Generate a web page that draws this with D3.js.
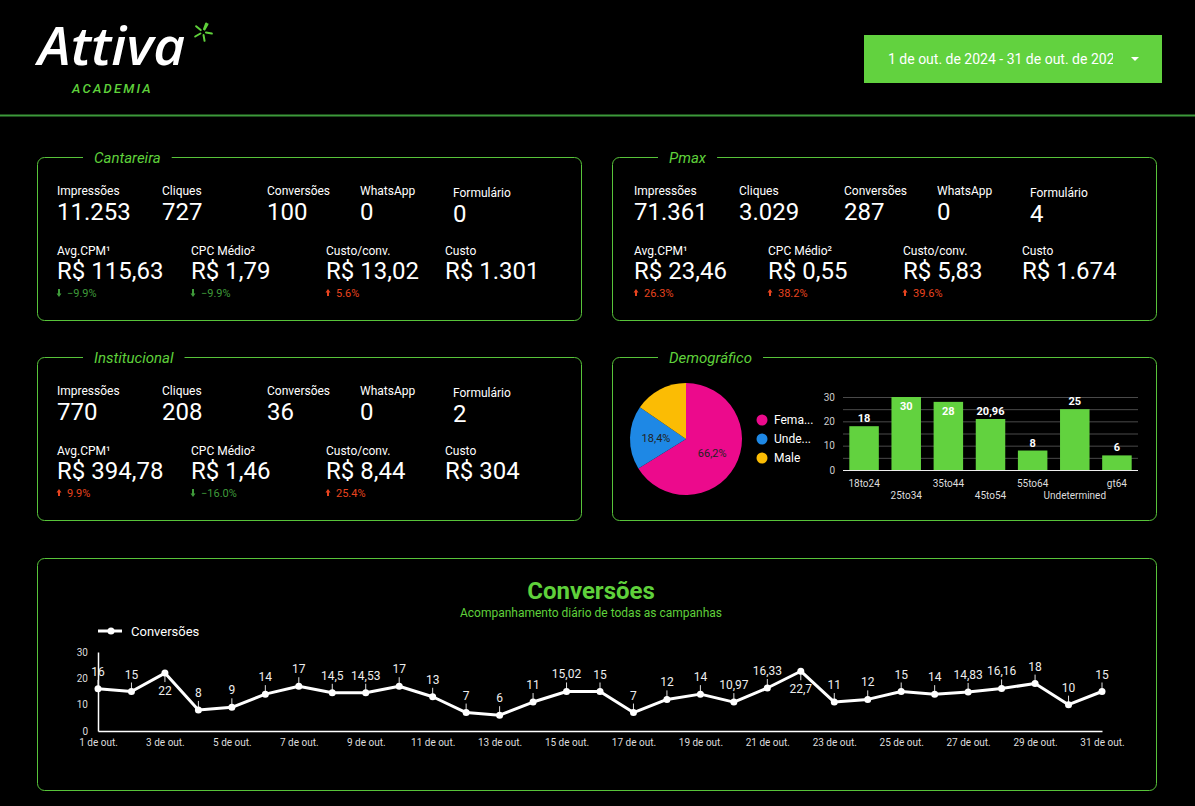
<!DOCTYPE html>
<html>
<head>
<meta charset="utf-8">
<script src="https://cdn.jsdelivr.net/npm/d3@7"></script>
<style>
  body { margin: 0; background: #000; }
  svg { display: block; font-family: Roboto, "Noto Sans", sans-serif; }
</style>
</head>
<body>
<div id="dash"></div>
<script>
//////////////////// data ////////////////////
const campaigns = ["Cantareira", "Pmax", "Institucional"];
const topLabels = ["Impressões", "Cliques", "Conversões", "WhatsApp", "Formulário"];
const bottomLabels = ["Avg.CPM¹", "CPC Médio²", "Custo/conv.", "Custo"];

const impressions = [11253, 71361, 770];
const clicks = [727, 3029, 208];
const conversions = [100, 287, 36];
const whatsapp = [0, 0, 0];
const formulario = [0, 4, 2];
const avgCpm = [115.63, 23.46, 394.78];
const cpcMedio = [1.79, 0.55, 1.46];
const custoConv = [13.02, 5.83, 8.44];
const custo = [1301, 1674, 304];
const cpmDelta = [-9.9, 26.3, 9.9];
const cpcDelta = [-9.9, 38.2, -16.0];
const custoConvDelta = [5.6, 39.6, 25.4];

const genderLabels = ["Female", "Undetermined", "Male"];
const genderShare = [66.2, 18.4, 15.4];

const ageLabels = ["18to24", "25to34", "35to44", "45to54", "55to64", "Undetermined", "gt64"];
const ageValues = [18, 30, 28, 20.96, 8, 25, 6];

const days = d3.range(1, 32);
const dailyConversions = [16, 15, 22, 8, 9, 14, 17, 14.5, 14.53, 17, 13, 7, 6, 11, 15.02, 15,
                          7, 12, 14, 10.97, 16.33, 22.7, 11, 12, 15, 14, 14.83, 16.16, 18, 10, 15];

const dateRange = "1 de out. de 2024 - 31 de out. de 2024";

//////////////////// setup ////////////////////
const width = 1195, height = 806;
const green = "#62d23f", greenText = "#5fd13b", border = "#58c43a";
const upColor = "#e8441f", downColor = "#3f9b3a";

const br = d3.formatLocale({ decimal: ",", thousands: ".", grouping: [3], currency: ["R$ ", ""] });
const fmtInt = br.format(",d");
const fmtNum = v => Number.isInteger(v) ? fmtInt(v) : br.format(",.2~f")(v);
const fmtMoney = v => Number.isInteger(v) ? "R$ " + fmtInt(v) : "R$ " + br.format(",.2f")(v);
const fmtPct = br.format(".1f");

let svg = d3.select("#dash").append("svg")
            .attr("width", width)
            .attr("height", height);
svg.append("rect").attr("width", width).attr("height", height).attr("fill", "#000");

//////////////////// header ////////////////////
svg.append("text")
   .attr("x", 38).attr("y", 65)
   .attr("textLength", 147).attr("lengthAdjust", "spacingAndGlyphs")
   .style("font-family", "'Open Sans', sans-serif")
   .style("font-style", "italic").style("font-weight", 600)
   .style("font-size", "52px").attr("fill", "#fff")
   .text("Attiva");
// little green sparkle next to the logo
const star = svg.append("g").attr("transform", "translate(203,32)");
[-60, 10, 80, 150, 220, 290].forEach(function(a) {
  const r = a * Math.PI / 180;
  star.append("line")
      .attr("x1", 3 * Math.cos(r)).attr("y1", 3 * Math.sin(r))
      .attr("x2", 9 * Math.cos(r)).attr("y2", 9 * Math.sin(r))
      .attr("stroke", greenText).attr("stroke-width", 2).attr("stroke-linecap", "round");
});
svg.append("text")
   .attr("x", 72).attr("y", 93)
   .style("font-style", "italic").style("font-weight", 500)
   .style("font-size", "13px").style("letter-spacing", "2.2px")
   .attr("fill", greenText)
   .text("ACADEMIA");

svg.append("line")
   .attr("x1", 0).attr("x2", width).attr("y1", 115.5).attr("y2", 115.5)
   .attr("stroke", "#3c9a3a").attr("stroke-width", 2);

// date range button
svg.append("rect").attr("x", 864).attr("y", 35).attr("width", 298).attr("height", 48).attr("fill", green);
svg.append("clipPath").attr("id", "dateClip")
   .append("rect").attr("x", 864).attr("y", 35).attr("width", 249).attr("height", 48);
svg.append("text")
   .attr("x", 888).attr("y", 64)
   .attr("clip-path", "url(#dateClip)")
   .style("font-size", "14px").attr("fill", "#fff")
   .text(dateRange);
svg.append("path").attr("d", "M1131,57 L1139,57 L1135,61 Z").attr("fill", "#fff");

//////////////////// helpers ////////////////////
function drawFrame(x0, y0, w, h, title) {
  svg.append("rect")
     .attr("x", x0 + 0.5).attr("y", y0 + 0.5).attr("width", w).attr("height", h)
     .attr("rx", 7).attr("fill", "none").attr("stroke", border).attr("stroke-width", 1);
  if (!title) return;
  let t = svg.append("text")
             .attr("x", x0 + 57).attr("y", y0 + 6)
             .style("font-style", "italic").style("font-size", "15px")
             .attr("fill", greenText)
             .text(title);
  let tw = t.node().getComputedTextLength();
  svg.insert("rect", "text:last-of-type")
     .attr("x", x0 + 46).attr("y", y0 - 3).attr("width", tw + 22).attr("height", 8)
     .attr("fill", "#000");
  t.raise();
}

function drawDelta(x, y, d) {
  const up = d > 0;
  const col = up ? upColor : downColor;
  const p = up
    ? `M${x+2},${y-8} L${x+4.5},${y-4.5} L${x+3},${y-4.5} L${x+3},${y-1} L${x+1},${y-1} L${x+1},${y-4.5} L${x-0.5},${y-4.5} Z`
    : `M${x+2},${y} L${x+4.5},${y-3.5} L${x+3},${y-3.5} L${x+3},${y-8} L${x+1},${y-8} L${x+1},${y-3.5} L${x-0.5},${y-3.5} Z`;
  svg.append("path").attr("d", p).attr("fill", col);
  svg.append("text").attr("x", x + 10).attr("y", y)
     .style("font-size", "11px").attr("fill", col)
     .text(fmtPct(d).replace(",", ".") + "%");
}

//////////////////// campaign cards ////////////////////
const cardPos = [[37, 157], [612, 157], [37, 357]];
const cardInset = [0, 2, 0];
const topCols = [20, 125, 230, 323, 416];
const botCols = [20, 154, 289, 408];

campaigns.forEach(function(name, i) {
  const [x0, y0] = cardPos[i];
  drawFrame(x0, y0, 544, 163, name);
  const xi = x0 + cardInset[i];
  const topVals = [impressions[i], clicks[i], conversions[i], whatsapp[i], formulario[i]];
  topLabels.forEach(function(lab, j) {
    const dy = j === 4 ? 2 : 0;
    svg.append("text").attr("x", xi + topCols[j]).attr("y", y0 + 38 + dy)
       .style("font-size", "12px").attr("fill", "#fff").text(lab);
    svg.append("text").attr("x", xi + topCols[j]).attr("y", y0 + 63 + dy)
       .style("font-size", "24px").attr("fill", "#fff").text(fmtNum(topVals[j]));
  });
  const botVals = [avgCpm[i], cpcMedio[i], custoConv[i], custo[i]];
  const botDeltas = [cpmDelta[i], cpcDelta[i], custoConvDelta[i], null];
  bottomLabels.forEach(function(lab, j) {
    svg.append("text").attr("x", xi + botCols[j]).attr("y", y0 + 98)
       .style("font-size", "12px").attr("fill", "#fff").text(lab);
    svg.append("text").attr("x", xi + botCols[j]).attr("y", y0 + 122)
       .style("font-size", "24px").attr("fill", "#fff").text(fmtMoney(botVals[j]));
    if (botDeltas[j] !== null) drawDelta(xi + botCols[j], y0 + 140, botDeltas[j]);
  });
});

//////////////////// demographics ////////////////////
drawFrame(612, 357, 544, 163, "Demográfico");

const pieColor = d3.scaleOrdinal().domain(genderLabels).range(["#ec0a8c", "#1e88e5", "#fbbc04"]);
const pie = d3.pie().sort(null).value(d => d.v);
const arc = d3.arc().innerRadius(0).outerRadius(56);
const labelArc = d3.arc().innerRadius(30).outerRadius(30);
const genderData = genderLabels.map((g, i) => ({ g: g, v: genderShare[i] }));

let pieG = svg.append("g").attr("transform", "translate(686,439)");
pieG.selectAll("path")
    .data(pie(genderData))
    .enter().append("path")
    .attr("d", arc)
    .attr("fill", d => pieColor(d.data.g));
pieG.selectAll("text")
    .data(pie(genderData).filter(d => d.data.v > 16))
    .enter().append("text")
    .attr("transform", d => `translate(${labelArc.centroid(d)})`)
    .attr("text-anchor", "middle").attr("dy", "0.35em")
    .style("font-size", "11px").attr("fill", "#222")
    .text(d => br.format(".1f")(d.data.v) + "%");

let legend = svg.append("g").attr("transform", "translate(762,420)");
genderLabels.forEach(function(g, i) {
  legend.append("circle").attr("cx", 0).attr("cy", i * 19).attr("r", 5.5).attr("fill", pieColor(g));
  legend.append("text").attr("x", 12).attr("y", i * 19).attr("dy", "0.35em")
        .style("font-size", "12px").attr("fill", "#fff")
        .text(g.length > 5 ? g.slice(0, 4) + "..." : g);
});

// age bars
const bx = d3.scaleBand().domain(ageLabels).range([843, 1138]).paddingInner(0.3).paddingOuter(0.15);
const by = d3.scaleLinear().domain([0, 30]).range([470, 397]);

svg.append("g").selectAll("line")
   .data([5, 10, 15, 20, 25, 30])
   .enter().append("line")
   .attr("x1", 843).attr("x2", 1138)
   .attr("y1", d => by(d) + 0.5).attr("y2", d => by(d) + 0.5)
   .attr("stroke", "#4a4a4a");

let byAxis = svg.append("g").attr("transform", "translate(843,0)")
                .call(d3.axisLeft(by).tickValues([0, 10, 20, 30]).tickSize(0).tickPadding(8));
byAxis.select(".domain").remove();
byAxis.selectAll("text").style("font-size", "10px").attr("fill", "#ccc").style("font-family", "Roboto");

svg.append("g").selectAll("rect")
   .data(ageValues)
   .enter().append("rect")
   .attr("x", (d, i) => bx(ageLabels[i]))
   .attr("y", d => by(d))
   .attr("width", bx.bandwidth())
   .attr("height", d => by(0) - by(d))
   .attr("fill", green);

svg.append("line").attr("x1", 843).attr("x2", 1138).attr("y1", 470.5).attr("y2", 470.5)
   .attr("stroke", "#eee").attr("stroke-width", 1.2);

svg.append("g").selectAll("text")
   .data(ageValues)
   .enter().append("text")
   .attr("x", (d, i) => bx(ageLabels[i]) + bx.bandwidth() / 2)
   .attr("y", d => d > 26 ? by(d) + 13 : by(d) - 4)
   .attr("text-anchor", "middle")
   .style("font-size", "11px").style("font-weight", 700).attr("fill", "#fff")
   .text(d => fmtNum(d));

svg.append("g").selectAll("text")
   .data(ageLabels)
   .enter().append("text")
   .attr("x", d => bx(d) + bx.bandwidth() / 2)
   .attr("y", (d, i) => i % 2 === 0 ? 487 : 499)
   .attr("text-anchor", "middle")
   .style("font-size", "10px").attr("fill", "#ddd")
   .text(d => d);

//////////////////// daily conversions ////////////////////
drawFrame(37, 558, 1119, 232, null);

svg.append("text").attr("x", 591).attr("y", 599).attr("text-anchor", "middle")
   .style("font-size", "24px").style("font-weight", 700).attr("fill", greenText)
   .text("Conversões");
svg.append("text").attr("x", 591).attr("y", 617).attr("text-anchor", "middle")
   .style("font-size", "12px").attr("fill", greenText)
   .text("Acompanhamento diário de todas as campanhas");

// legend
svg.append("line").attr("x1", 98).attr("x2", 122).attr("y1", 631).attr("y2", 631)
   .attr("stroke", "#fff").attr("stroke-width", 3);
svg.append("circle").attr("cx", 111).attr("cy", 631).attr("r", 3.5).attr("fill", "#fff");
svg.append("text").attr("x", 131).attr("y", 631).attr("dy", "0.35em")
   .style("font-size", "13px").attr("fill", "#fff").text("Conversões");

const lx = d3.scaleLinear().domain([1, 31]).range([98, 1102]);
const ly = d3.scaleLinear().domain([0, 30]).range([731, 652]);

let xAxis = svg.append("g").attr("transform", "translate(0,731)")
               .call(d3.axisBottom(lx).tickValues(days.filter(d => d % 2 === 1))
                                      .tickSize(0).tickPadding(8)
                                      .tickFormat(d => d + " de out."));
xAxis.select(".domain").attr("stroke", "#fff").attr("stroke-width", 1.5);
xAxis.selectAll("text").style("font-size", "10px").attr("fill", "#ddd").style("font-family", "Roboto");

let yAxis = svg.append("g").attr("transform", "translate(98,0)")
               .call(d3.axisLeft(ly).tickValues([0, 10, 20, 30]).tickSize(0).tickPadding(10));
yAxis.select(".domain").attr("stroke", "#fff").attr("stroke-width", 1.5);
yAxis.selectAll("text").style("font-size", "10px").attr("fill", "#ddd").style("font-family", "Roboto");

const pts = days.map((d, i) => ({ day: d, v: dailyConversions[i] }));

svg.append("path")
   .datum(pts)
   .attr("fill", "none").attr("stroke", "#fff").attr("stroke-width", 3)
   .attr("stroke-linejoin", "round")
   .attr("d", d3.line().x(d => lx(d.day)).y(d => ly(d.v)));

// little leader lines for the point labels
svg.append("g").selectAll("line")
   .data(pts)
   .enter().append("line")
   .attr("x1", d => lx(d.day)).attr("x2", d => lx(d.day))
   .attr("y1", d => ly(d.v))
   .attr("y2", d => d.v > 20 ? ly(d.v) + 9 : ly(d.v) - 9)
   .attr("stroke", "#ddd").attr("stroke-width", 1);

svg.append("g").selectAll("circle")
   .data(pts)
   .enter().append("circle")
   .attr("cx", d => lx(d.day)).attr("cy", d => ly(d.v)).attr("r", 3.5)
   .attr("fill", "#fff");

svg.append("g").selectAll("text")
   .data(pts)
   .enter().append("text")
   .attr("x", d => lx(d.day))
   .attr("y", d => d.v > 20 ? ly(d.v) + 22 : ly(d.v) - 13)
   .attr("text-anchor", "middle")
   .style("font-size", "12px").attr("fill", "#eee")
   .text(d => fmtNum(d.v));
</script>
</body>
</html>
